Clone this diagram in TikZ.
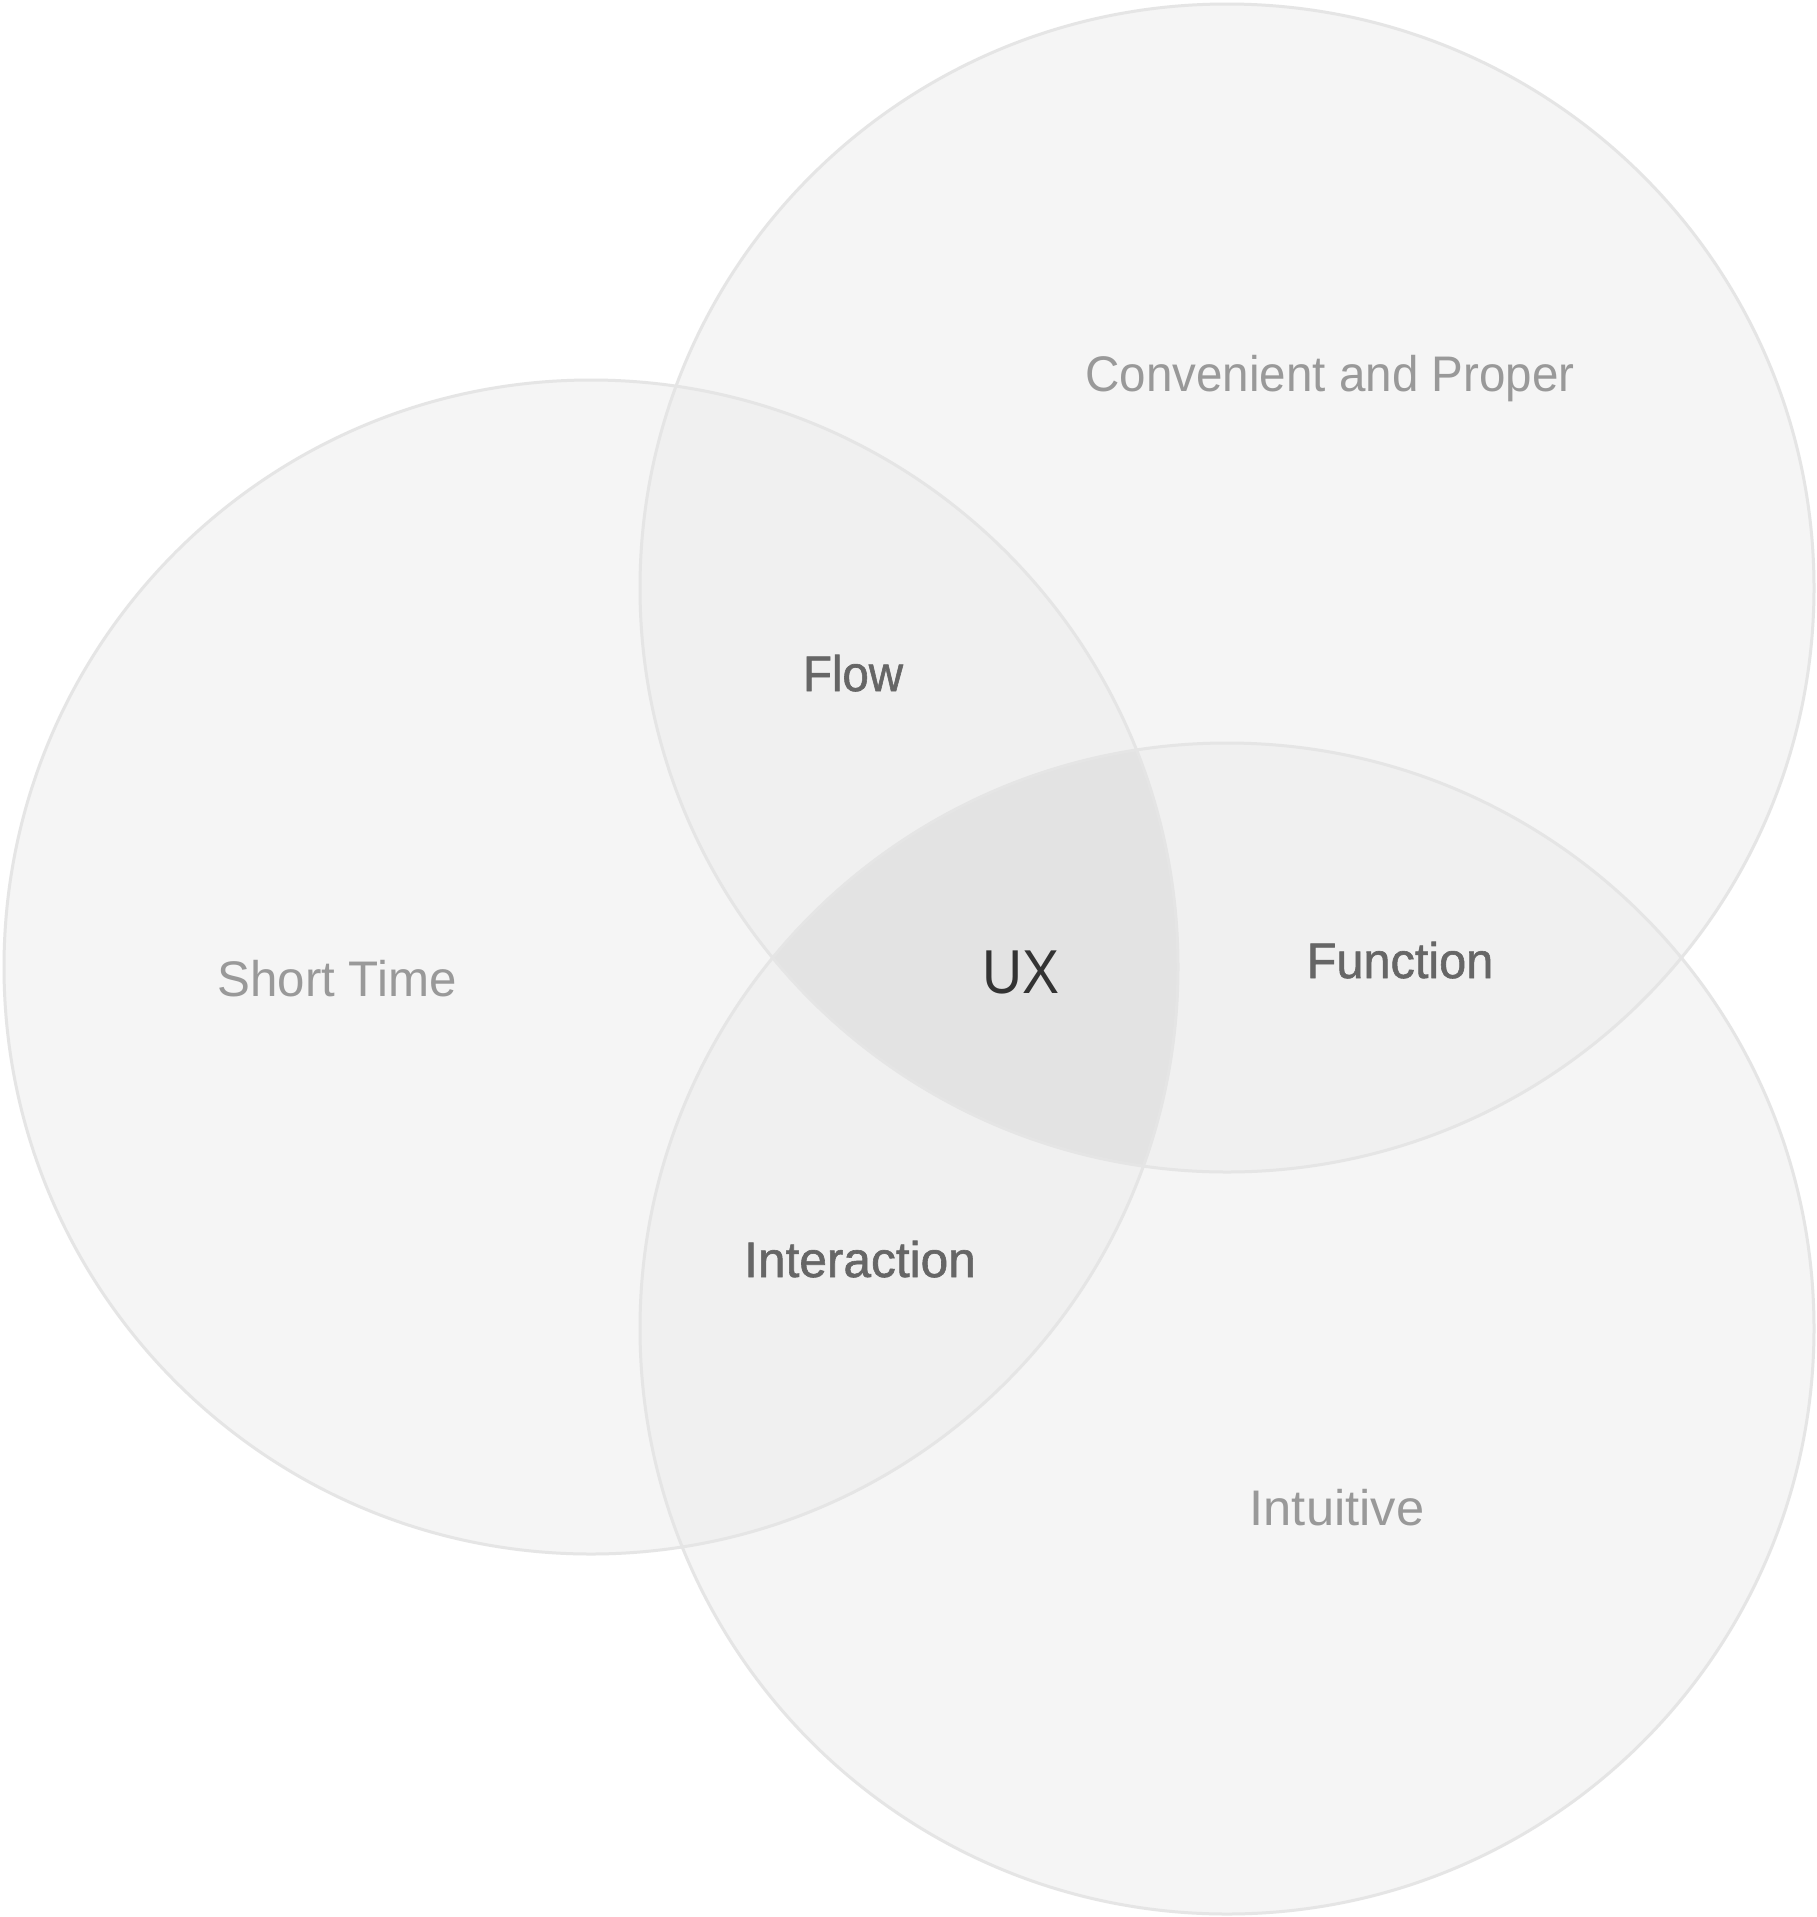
\documentclass[tikz,border=0pt]{standalone}
\usepackage{graphicx}
\usepackage{fontspec}
\setmainfont{Liberation Sans}
\newfontfamily\medfont{Liberation Sans}[FakeBold=1.2]
\definecolor{oneC}{HTML}{F5F5F5}
\definecolor{twoC}{HTML}{F0F0F0}
\definecolor{threeC}{HTML}{E3E3E3}
\definecolor{rimC}{HTML}{E5E5E5}
\definecolor{lightT}{HTML}{999999}
\definecolor{midT}{HTML}{666666}
\definecolor{darkT}{HTML}{333333}
\newcommand{\hsq}[2]{\scalebox{#1}[1]{#2}}
\begin{document}
\begin{tikzpicture}[x=1pt,y=-1pt,
  lab/.style={font=\fontsize{50}{60}\selectfont, anchor=base, inner sep=0pt},
  outerlab/.style={lab, text=lightT},
  pairlab/.style={font=\medfont\fontsize{50}{60}\selectfont, anchor=base, inner sep=0pt, text=midT},
  corelab/.style={font=\fontsize{62}{72}\selectfont, anchor=base, inner sep=0pt, text=darkT},
  rim/.style={draw=rimC, line width=3pt}]
\useasboundingbox (0,0) rectangle (1816,1917);
\fill[white] (0,0) rectangle (1816,1917);
\coordinate (cL) at (591,967);
\coordinate (cT) at (1227,588);
\coordinate (cB) at (1227,1328.5);
\def\shL{(cL) ellipse[x radius=587pt, y radius=587pt]}
\def\shT{(cT) ellipse[x radius=587pt, y radius=584pt]}
\def\shB{(cB) ellipse[x radius=587pt, y radius=585.5pt]}
% single regions
\fill[oneC] \shL;
\fill[oneC] \shT;
\fill[oneC] \shB;
% pairwise
\begin{scope}\clip \shL; \fill[twoC] \shT; \end{scope}
\begin{scope}\clip \shL; \fill[twoC] \shB; \end{scope}
\begin{scope}\clip \shT; \fill[twoC] \shB; \end{scope}
% triple
\begin{scope}\clip \shL; \clip \shT; \fill[threeC] \shB; \end{scope}
% rims
\draw[rim] \shL;
\draw[rim] \shT;
\draw[rim] \shB;
% labels
\node[outerlab] (conv) at (1330,391) {\hsq{0.951}{Convenient and Proper}};
\node[outerlab] (short) at (337,996) {\hsq{0.985}{Short Time}};
\node[outerlab] (intu) at (1337,1525) {\hsq{1.013}{Intuitive}};
\node[pairlab] (flow) at (853,691) {\hsq{0.948}{Flow}};
\node[pairlab] (func) at (1400,978) {\hsq{0.973}{Function}};
\node[pairlab] (inter) at (860,1277) {\hsq{0.992}{Interaction}};
\node[corelab] (ux) at (1021,993) {\hsq{0.894}{UX}};
\end{tikzpicture}
\end{document}
